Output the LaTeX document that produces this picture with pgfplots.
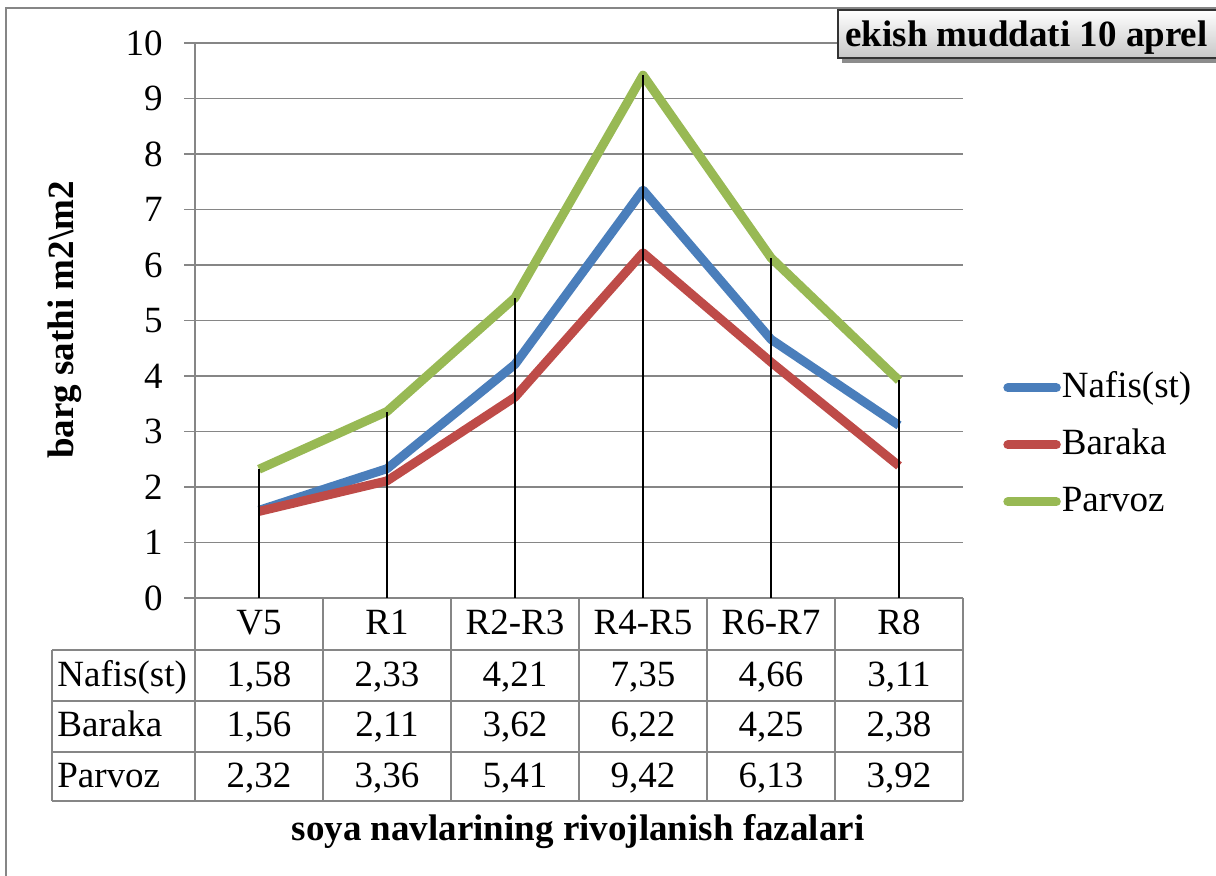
\documentclass[border=0pt]{standalone}
\usepackage{fontspec}
\setmainfont{Liberation Serif}
\usepackage{pgfplots}
\pgfplotsset{compat=1.18}
\definecolor{cblue}{HTML}{4A7EBB}
\definecolor{cred}{HTML}{BE4B48}
\definecolor{cgreen}{HTML}{98B954}
\definecolor{cgrid}{HTML}{868686}
\begin{document}
\begin{tikzpicture}[font=\fontsize{18.5}{22}\selectfont]
\begin{axis}[
  at={(97.5pt,-299pt)}, anchor=south west,
  scale only axis, width=384pt, height=277.5pt,
  xmin=-0.5, xmax=5.5, ymin=0, ymax=10,
  axis lines*=left, axis line style={cgrid, line width=0.75pt},
  xtick=\empty,
  ytick={0,1,...,10},
  ymajorgrids, grid style={cgrid, line width=0.75pt},
  tick align=outside, major tick length=5.5pt,
  tick style={cgrid, line width=0.75pt},
  yticklabel style={font=\fontsize{18.5}{22}\selectfont, anchor=east, inner sep=0pt, xshift=-10.5pt},
  /pgf/number format/assume math mode=true,
  clip=false,
  legend style={at={(rel axis cs:1.052,0.276)}, anchor=west, draw=none, fill=none, inner sep=0pt,
    font=\fontsize{18.5}{22}\selectfont,
    nodes={inner sep=0.5pt, text height=12.5pt, text depth=3pt}, row sep=12pt},
  legend cell align=left,
  legend image code/.code={\draw[#1, line width=4.5pt, line cap=round] (2.25pt,0pt) -- (26.5pt,0pt);},
]
\addplot[cblue, line width=4.5pt, line join=round] coordinates {(0,1.58) (1,2.33) (2,4.21) (3,7.35) (4,4.66) (5,3.11)};
\addlegendentry{Nafis(st)}
\addplot[cred, line width=4.5pt, line join=round] coordinates {(0,1.56) (1,2.11) (2,3.62) (3,6.22) (4,4.25) (5,2.38)};
\addlegendentry{Baraka}
\addplot[cgreen, line width=4.5pt, line join=round] coordinates {(0,2.32) (1,3.36) (2,5.41) (3,9.42) (4,6.13) (5,3.92)};
\addlegendentry{Parvoz}
\addplot[black, line width=0.75pt, ycomb, forget plot] coordinates {(0,2.32) (1,3.36) (2,5.41) (3,9.42) (4,6.13) (5,3.92)};
\end{axis}
\begin{scope}[x=0.5pt, y=-0.5pt]
  % outer frame
  \draw[cgrid, line width=0.75pt] (6,880) -- (6,8) -- (1222,8);
  % table grid
  \draw[cgrid, line width=0.75pt]
    (52,650) -- (963,650) (52,701) -- (963,701) (52,752) -- (963,752) (52,801) -- (963,801)
    (52,650) -- (52,801);
  \foreach \xx in {195,323,451,579,707,835,963} {
    \draw[cgrid, line width=0.75pt] (\xx,598) -- (\xx,801);
  }
  % header
  \foreach \xx/\t in {259/V5, 387/R1, 515/R2-R3, 643/R4-R5, 771/R6-R7, 899/R8} {
    \node[anchor=base] at (\xx,635) {\t};
  }
  % row labels
  \node[anchor=base west, inner sep=0pt] at (57,687) {Nafis(st)};
  \node[anchor=base west, inner sep=0pt] at (57,737) {Baraka};
  \node[anchor=base west, inner sep=0pt] at (57,787) {Parvoz};
  \foreach \xx/\t in {259/{1,58}, 387/{2,33}, 515/{4,21}, 643/{7,35}, 771/{4,66}, 899/{3,11}} {
    \node[anchor=base] at (\xx,687) {\t};
  }
  \foreach \xx/\t in {259/{1,56}, 387/{2,11}, 515/{3,62}, 643/{6,22}, 771/{4,25}, 899/{2,38}} {
    \node[anchor=base] at (\xx,737) {\t};
  }
  \foreach \xx/\t in {259/{2,32}, 387/{3,36}, 515/{5,41}, 643/{9,42}, 771/{6,13}, 899/{3,92}} {
    \node[anchor=base] at (\xx,787) {\t};
  }
  % axis titles
  \node[font=\fontsize{18.5}{22}\selectfont\bfseries, rotate=90] at (65,320) {barg sathi m2\textbackslash m2};
  \node[font=\fontsize{18.5}{22}\selectfont\bfseries, anchor=base] at (578,841) {soya navlarining rivojlanish fazalari};
  % title box
  \fill[black!45] (842,14) rectangle (1226,63);
  \shade[top color=white, bottom color=black!22, draw=black!80, line width=0.75pt] (838,10) rectangle (1222,58);
  \node[font=\fontsize{18.5}{22}\selectfont\bfseries, anchor=base west, inner sep=0pt] at (845,47) {ekish muddati 10 aprel};
  \pgfresetboundingbox
  \path[use as bounding box] (0,0) rectangle (1216,876);
\end{scope}
\end{tikzpicture}
\end{document}
